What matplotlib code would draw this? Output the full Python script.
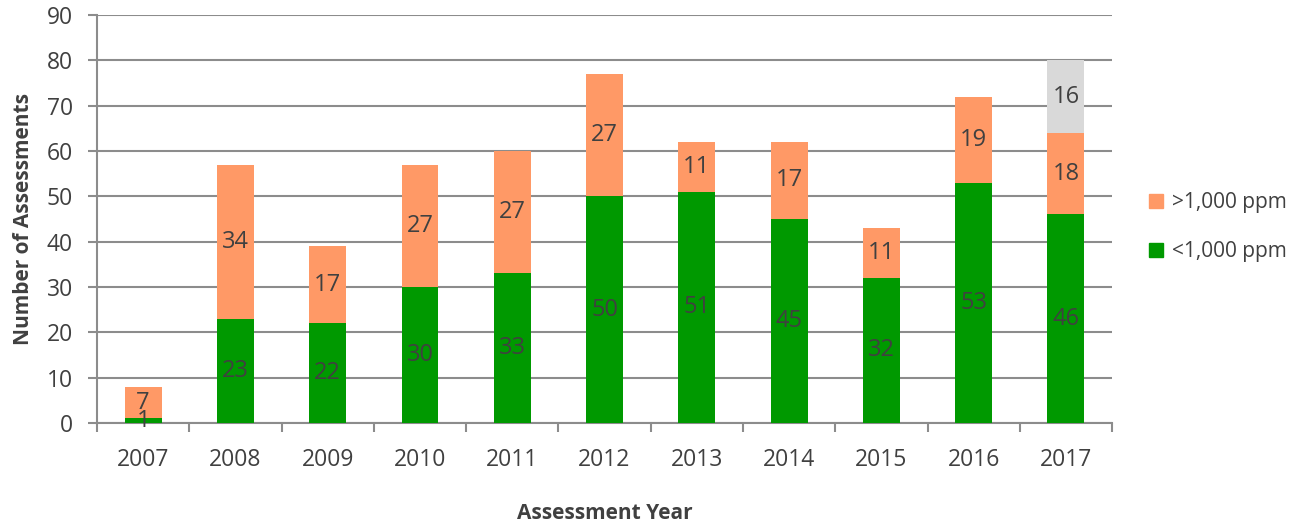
import numpy as np
import matplotlib.pyplot as plt
from matplotlib.patches import Patch

plt.rcParams['font.family'] = ['Open Sans', 'DejaVu Sans']

years = ['2007', '2008', '2009', '2010', '2011', '2012', '2013', '2014', '2015', '2016', '2017']
below = [1, 23, 22, 30, 33, 50, 51, 45, 32, 53, 46]
above = [7, 34, 17, 27, 27, 27, 11, 17, 11, 19, 18]
pending = [0, 0, 0, 0, 0, 0, 0, 0, 0, 0, 16]

green = '#009900'
orange = '#FF9966'
grey = '#D9D9D9'
axis_col = '#8C8C8C'
text_col = '#404040'

fig = plt.figure(figsize=(12.99, 5.23), dpi=100)
ax = fig.add_axes([0.0747, 0.1912, 0.7814, 0.7801])

x = np.arange(len(years))
w = 0.4
ax.bar(x, below, w, color=green, zorder=3)
ax.bar(x, above, w, bottom=below, color=orange, zorder=3)
base2 = np.array(below) + np.array(above)
ax.bar(x, pending, w, bottom=base2, color=grey, zorder=3)

# data labels centred in each segment
lab_fs = 17
for i in range(len(years)):
    ax.text(x[i], below[i] / 2, str(below[i]), ha='center', va='center',
            fontsize=lab_fs, color=text_col, zorder=4)
    ax.text(x[i], below[i] + above[i] / 2, str(above[i]), ha='center', va='center',
            fontsize=lab_fs, color=text_col, zorder=4)
    if pending[i]:
        ax.text(x[i], base2[i] + pending[i] / 2, str(pending[i]), ha='center',
                va='center', fontsize=lab_fs, color=text_col, zorder=4)

ax.set_ylim(0, 90)
ax.set_xlim(-0.5, len(years) - 0.5)
ax.set_yticks(range(0, 91, 10))
ax.set_xticks(x)
ax.set_xticklabels(years)
ax.set_xticks(np.arange(-0.5, len(years), 1), minor=True)
ax.tick_params(axis='x', which='major', length=0, pad=18, labelsize=16.5, labelcolor=text_col)
ax.tick_params(axis='x', which='minor', length=6.5, width=1.5, color=axis_col, direction='out')
ax.tick_params(axis='y', length=6.5, width=1.5, color=axis_col, labelsize=16.5,
               labelcolor=text_col, pad=11)

ax.grid(axis='y', color=axis_col, linewidth=1.5, zorder=0)
ax.set_axisbelow(True)
for s in ['top', 'right']:
    ax.spines[s].set_visible(False)
for s in ['left', 'bottom']:
    ax.spines[s].set_color(axis_col)
    ax.spines[s].set_linewidth(1.5)

ax.set_ylabel('Number of Assessments', fontsize=15, fontweight='bold', color=text_col, labelpad=9)
ax.set_xlabel('Assessment Year', fontsize=15, fontweight='bold', color=text_col, labelpad=22)

handles = [Patch(color=orange, label='>1,000 ppm'), Patch(color=green, label='<1,000 ppm')]
ax.legend(handles=handles, loc='center left', bbox_to_anchor=(1.018, 0.48),
          frameon=False, fontsize=15, handlelength=0.65, handleheight=0.65,
          handletextpad=0.45, labelspacing=1.35, labelcolor=text_col)

fig.savefig('out.png', dpi=100)
